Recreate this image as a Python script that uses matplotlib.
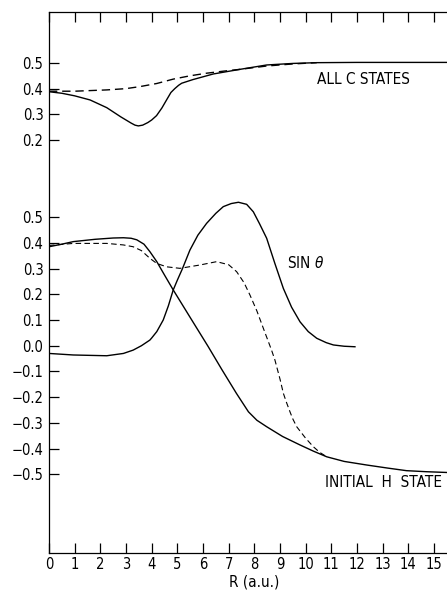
import numpy as np
import matplotlib
matplotlib.use("Agg")
import matplotlib.pyplot as plt

plt.rcParams['font.family'] = ['DejaVu Sans']
plt.rcParams['font.stretch'] = 'condensed'
plt.rcParams['axes.unicode_minus'] = True

# upper panel ("ALL C STATES") is drawn on the same axis shifted up by this amount
upper_offset = 0.6

# ALL C STATES, solid
c_solid_r = [0, 0.5, 1.0, 1.6, 2.25, 2.8, 3.2, 3.35, 3.48, 3.65, 3.85, 4.0, 4.19, 4.4, 4.58,
             4.75, 4.9, 5.05, 5.17, 5.6, 6.4, 7.44, 8.48, 9.5, 10.43, 12, 14, 16]
c_solid_y = [0.388, 0.382, 0.372, 0.356, 0.326, 0.29, 0.266, 0.258, 0.255, 0.258, 0.268,
             0.278, 0.295, 0.325, 0.356, 0.385, 0.40, 0.413, 0.421, 0.435, 0.457, 0.475,
             0.492, 0.498, 0.501, 0.502, 0.502, 0.502]

# ALL C STATES, dashed
c_dash_r = [0, 1, 2.25, 3.0, 3.55, 4.2, 4.84, 5.5, 6.14, 6.8, 7.44, 8.48, 9.5, 10.43]
c_dash_y = [0.39, 0.39, 0.395, 0.40, 0.408, 0.42, 0.437, 0.45, 0.46, 0.468, 0.475, 0.488,
            0.496, 0.501]

# INITIAL H STATE, solid
h_solid_r = [0, 0.5, 0.95, 1.8, 2.5, 2.9, 3.2, 3.42, 3.7, 3.93, 4.2, 4.5, 4.84, 5.5, 6.2,
             6.73, 7.3, 7.77, 8.1, 8.48, 9.1, 9.78, 10.3, 10.82, 11.5, 12.38, 13.2, 13.93,
             14.7, 15.5, 16]
h_solid_y = [0.385, 0.395, 0.405, 0.414, 0.419, 0.42, 0.418, 0.412, 0.395, 0.366, 0.327,
             0.275, 0.217, 0.11, -0.003, -0.092, -0.185, -0.257, -0.29, -0.315, -0.353,
             -0.386, -0.41, -0.432, -0.45, -0.464, -0.476, -0.486, -0.49, -0.493, -0.494]

# INITIAL H STATE, dashed
h_dash_r = [0, 0.95, 2.25, 2.9, 3.28, 3.6, 3.93, 4.2, 4.58, 5.1, 5.88, 6.53, 7.0, 7.31, 7.6,
            7.83, 8.1, 8.35, 8.67, 8.8, 9.0, 9.13, 9.25, 9.4, 9.5, 9.65, 10.0, 10.3, 10.55,
            10.82]
h_dash_y = [0.39, 0.398, 0.398, 0.392, 0.385, 0.37, 0.34, 0.32, 0.307, 0.301, 0.314, 0.327,
            0.315, 0.288, 0.245, 0.197, 0.135, 0.068, -0.017, -0.055, -0.13, -0.185, -0.22,
            -0.26, -0.285, -0.315, -0.36, -0.393, -0.415, -0.432]

# SIN theta
sin_r = [0, 0.95, 2.25, 2.9, 3.28, 3.6, 3.93, 4.0, 4.2, 4.45, 4.65, 4.84, 5.0, 5.2, 5.49,
         5.8, 6.14, 6.5, 6.79, 7.1, 7.38, 7.7, 7.96, 8.2, 8.48, 8.8, 9.13, 9.45, 9.78, 10.1,
         10.43, 10.8, 11.08, 11.5, 11.92]
sin_y = [-0.03, -0.036, -0.039, -0.03, -0.017, 0.0, 0.022, 0.03, 0.055, 0.1, 0.155, 0.217,
         0.255, 0.30, 0.372, 0.43, 0.476, 0.515, 0.541, 0.553, 0.558, 0.55, 0.521, 0.475,
         0.418, 0.32, 0.223, 0.15, 0.093, 0.055, 0.029, 0.012, 0.003, -0.002, -0.004]

x_ticks = list(range(0, 16))
lower_ticks = [-0.5, -0.4, -0.3, -0.2, -0.1, 0.0, 0.1, 0.2, 0.3, 0.4, 0.5]
upper_ticks = [0.2, 0.3, 0.4, 0.5]

fig = plt.figure(figsize=(4.47, 5.92), dpi=100)
ax = fig.add_axes([0.1096, 0.0664, 0.9188, 0.9133])

lw = 1.0
ax.plot(c_solid_r, np.array(c_solid_y) + upper_offset, color='black', lw=lw)
ax.plot(c_dash_r, np.array(c_dash_y) + upper_offset, color='black', lw=lw, dashes=(6, 3.5))
ax.plot(h_solid_r, h_solid_y, color='black', lw=lw)
ax.plot(h_dash_r, h_dash_y, color='black', lw=lw * 0.8, dashes=(5, 3))
ax.plot(sin_r, sin_y, color='black', lw=lw)

ax.set_xlim(0, 16)
ax.set_ylim(-0.805, 1.298)

ax.set_xticks(x_ticks)
ax.set_xticklabels([str(t) for t in x_ticks])
yt = lower_ticks + [u + upper_offset for u in upper_ticks]
ylab = [f"{v:.1f}".replace('-', '\u2212') for v in lower_ticks] + [f"{v:.1f}" for v in upper_ticks]
ax.set_yticks(yt)
ax.set_yticklabels(ylab)

ax.tick_params(axis='x', direction='in', length=7, width=0.9, pad=3, labelsize=10.5,
               top=True, bottom=True)
ax.tick_params(axis='y', direction='in', length=7, width=0.9, pad=4, labelsize=10.5)

ax.spines['right'].set_visible(False)
for s in ['left', 'bottom', 'top']:
    ax.spines[s].set_linewidth(0.9)

ax.set_xlabel("R (a.u.)", fontsize=11, labelpad=2)

ax.text(10.44, 0.434 + upper_offset, "ALL C STATES", fontsize=11, ha='left', va='center')
ax.text(9.27, 0.323, "SIN $\\theta$", fontsize=11, ha='left', va='center')
ax.text(10.75, -0.533, "INITIAL  H  STATE", fontsize=11, ha='left', va='center')

fig.savefig("out.png", dpi=100)
